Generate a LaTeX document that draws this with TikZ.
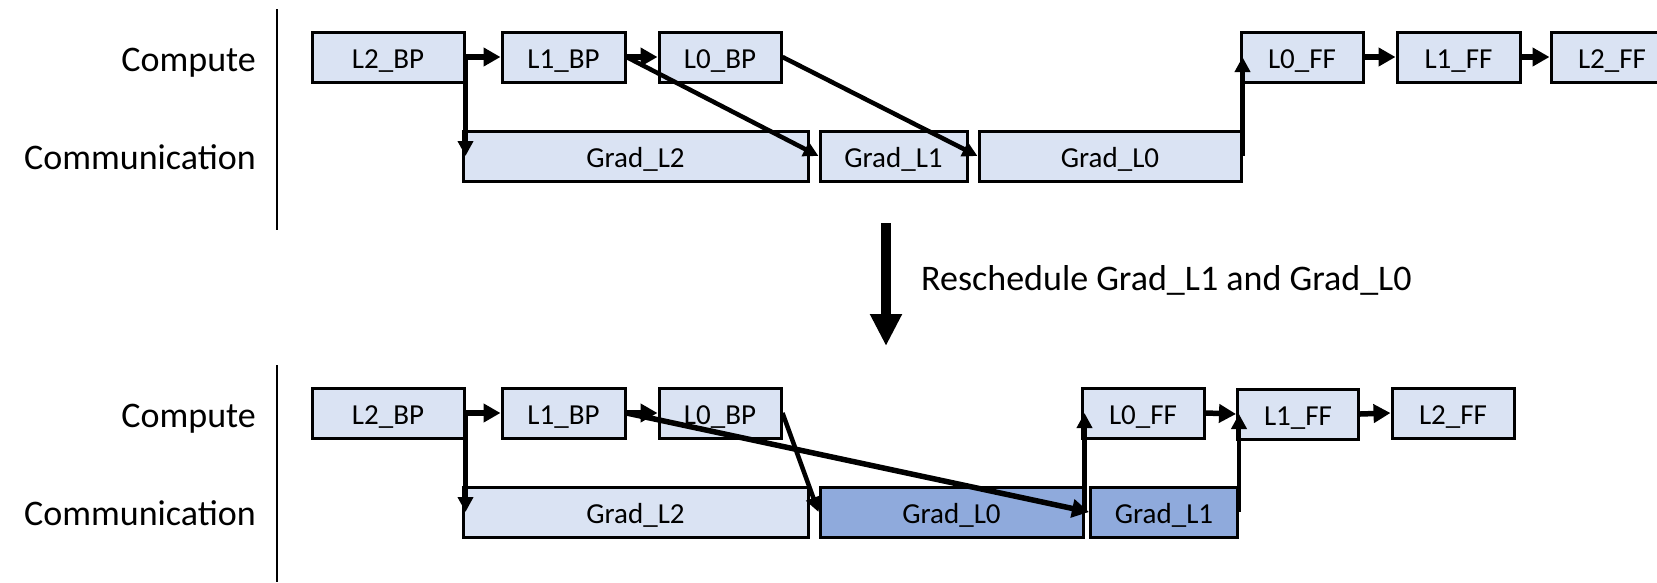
\documentclass[tikz,border=0pt]{standalone}
\usepackage{fontspec}
\setmainfont{Carlito}
\usetikzlibrary{arrows.meta}
\definecolor{boxlight}{HTML}{DAE3F3}
\definecolor{boxdark}{HTML}{8FAADC}
\begin{document}
\begin{tikzpicture}[x=1pt,y=-1pt,
  task/.style={draw=black, line width=3pt, fill=boxlight, minimum height=50pt,
    inner sep=0pt, font=\fontsize{29}{34}\selectfont, text height=23pt, text depth=0pt},
  hot/.style={task, fill=boxdark},
  rowlabel/.style={anchor=base east, inner sep=0pt, font=\fontsize{36}{43}\selectfont},
  link/.style={line width=5.5pt, -{Triangle[length=17pt,width=18pt]}},
  hand/.style={line width=4.5pt, -{Triangle[length=15pt,width=15pt]}},
  divider/.style={line width=1.4pt, draw=black}
]
\useasboundingbox (0,0) rectangle (1657,582);
\clip (0,0) rectangle (1657,582);

% ---------- original schedule ----------
\node[rowlabel] (aCompLbl) at (256,71) {Compute};
\node[rowlabel] (aCommLbl) at (256,169) {Communication};
\coordinate (aDivTop) at (277,9);
\coordinate (aDivBot) at (277,230);
\draw[divider] (aDivTop) -- (aDivBot);

\node[task, minimum width=152pt] (aL2BP) at (388,57) {L2\_BP};
\node[task, minimum width=123pt] (aL1BP) at (563.5,57) {L1\_BP};
\node[task, minimum width=122pt] (aL0BP) at (720,57) {L0\_BP};
\node[task, minimum width=345pt] (aG2) at (635.5,156) {Grad\_L2};
\node[task, minimum width=147pt] (aG1) at (893.5,156) {Grad\_L1};
\node[task, minimum width=262pt] (aG0) at (1110,156) {Grad\_L0};
\node[task, minimum width=122pt] (aL0FF) at (1302,57) {L0\_FF};
\node[task, minimum width=123pt] (aL1FF) at (1458.5,57) {L1\_FF};
\node[task, minimum width=122pt] (aL2FF) at (1612,57) {L2\_FF};

\draw[link] (aL2BP.east) -- (aL1BP.west);
\draw[link] (aL1BP.east) -- (aL0BP.west);
\draw[hand] (aL2BP.east) -- (aL2BP.east |- aG2.west);
\draw[hand] (aL1BP.east) -- (aG1.west);
\draw[hand] (aL0BP.east) -- (aG0.west);
\draw[hand] (aG0.east) -- (aG0.east |- aL0FF.west);
\draw[link] (aL0FF.east) -- (aL1FF.west);
\draw[link] (aL1FF.east) -- (aL2FF.west);

% ---------- rescheduling step ----------
\coordinate (rsTop) at (886,223);
\coordinate (rsBot) at (886,346);
\draw[line width=10pt, -{Triangle[length=32pt,width=30pt]}] (rsTop) -- (rsBot);
\node[anchor=base west, inner sep=0pt, font=\fontsize{36}{43}\selectfont] (rsLbl)
  at (921,290) {Reschedule Grad\_L1 and Grad\_L0};

% ---------- new schedule ----------
\node[rowlabel] (bCompLbl) at (256,427) {Compute};
\node[rowlabel] (bCommLbl) at (256,525) {Communication};
\coordinate (bDivTop) at (277,365);
\coordinate (bDivBot) at (277,582);
\draw[divider] (bDivTop) -- (bDivBot);

\node[task, minimum width=152pt] (bL2BP) at (388,413) {L2\_BP};
\node[task, minimum width=123pt] (bL1BP) at (563.5,413) {L1\_BP};
\node[task, minimum width=122pt] (bL0BP) at (720,413) {L0\_BP};
\node[task, minimum width=345pt] (bG2) at (635.5,512) {Grad\_L2};
\node[hot, minimum width=263pt] (bG0) at (951.5,512) {Grad\_L0};
\node[hot, minimum width=147pt] (bG1) at (1164,512) {Grad\_L1};
\node[task, minimum width=122pt] (bL0FF) at (1143,413) {L0\_FF};
\node[task, minimum width=121pt] (bL1FF) at (1298,414) {L1\_FF};
\node[task, minimum width=122pt] (bL2FF) at (1453,413) {L2\_FF};

\draw[link] (bL2BP.east) -- (bL1BP.west);
\draw[link] (bL1BP.east) -- (bL0BP.west);
\draw[hand] (bL2BP.east) -- (bL2BP.east |- bG2.west);
\draw[hand] (bL0BP.east) -- (bG0.west);
\draw[link] (bL1BP.east) -- (bG1.west);
\draw[hand] (bG0.east) -- (bG0.east |- bL0FF.west);
\draw[hand] (bG1.east) -- (bG1.east |- bL1FF.west);
\draw[link] (bL0FF.east) -- (bL1FF.west);
\draw[link] (bL1FF.east) -- (bL2FF.west);
\end{tikzpicture}
\end{document}
